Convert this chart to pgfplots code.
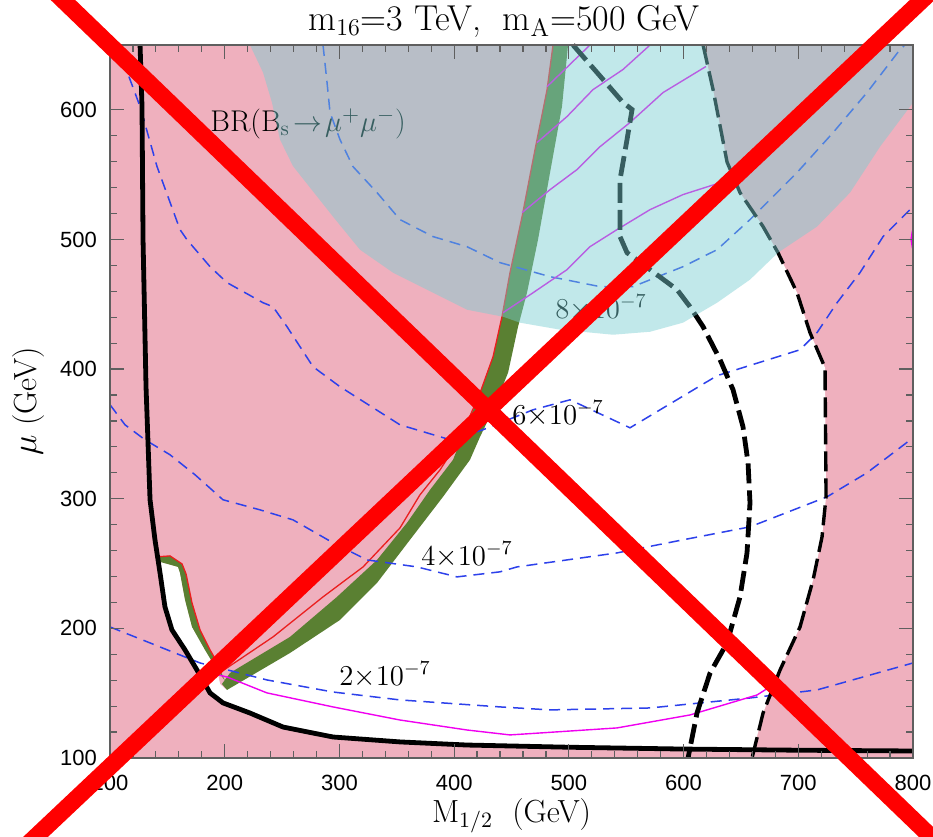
\documentclass[border=0pt]{standalone}
\usepackage{fontspec}
\setsansfont{Liberation Sans}
\usepackage{pgfplots}
\pgfplotsset{compat=1.18}

\definecolor{pinkbg}{RGB}{239,176,190}
\definecolor{bandgreen}{RGB}{90,128,50}
\definecolor{bandred}{RGB}{235,30,30}
\definecolor{brteal}{RGB}{120,207,210}
\definecolor{contourblue}{RGB}{45,65,235}
\definecolor{lspmag}{RGB}{240,0,240}
\definecolor{framegray}{RGB}{95,95,95}

\begin{document}
\begin{tikzpicture}
\begin{axis}[
  set layers, axis on top, clip=false,
  scale only axis, width=401.5pt, height=356.5pt,
  xmin=100, xmax=800, ymin=100, ymax=650,
  xtick={100,200,...,800}, ytick={100,200,...,600},
  minor x tick num=4, minor y tick num=4,
  major tick length=7pt, minor tick length=3.5pt,
  tick style={draw=framegray, line width=0.6pt},
  axis line style={draw=framegray, line width=0.9pt},
  axis background/.style={fill=pinkbg},
  /pgf/number format/assume math mode=true,
  ticklabel style={font=\sffamily\fontsize{11}{11}\selectfont},
  xticklabel style={yshift=-5pt},
  yticklabel style={xshift=-3pt},
  title={m$_{16}$=3 TeV,\ \ m$_{\mathrm{A}}$=500 GeV},
  title style={font=\fontsize{18}{21}\selectfont, at={(axis description cs:0.4907,1.021)}, anchor=base, yshift=-6pt},
  xlabel={M$_{1/2}$\ \ (GeV)},
  xlabel style={font=\fontsize{16}{19}\selectfont, at={(axis description cs:0.5,-0.0898)}, anchor=base},
  ylabel={$\mu$ (GeV)},
  ylabel style={font=\fontsize{16}{19}\selectfont, at={(axis description cs:-0.1021,0.5)}, anchor=center, rotate=0},
]

% allowed region
\addplot[fill=white, draw=none] coordinates {
 (141.5,253) (143.6,242.8) (147.9,216.6) (154.0,198.8) (165.4,183.4) (175.8,167.9)
 (187.2,150.2) (198.5,142.5) (222.0,134.7) (250.8,123.9) (294.4,116.2) (352.8,112.4)
 (411.2,110.0) (500,108.3) (599.5,106.9) (661,106.5) (669.3,134.7) (684.1,167.9)
 (701.5,201.1) (712.9,237.4) (720.7,270.6) (724.2,301.5) (723.3,401.0) (710.2,428.1)
 (698.9,458.9) (682.3,489.8) (669.3,509.9) (649.2,536.1) (637.9,559.7) (625.7,615.6)
 (617.0,650) (498,650) (492.8,602.5) (482.4,551.6) (471.9,499.8) (462.3,458.9)
 (454.5,432.7) (445.8,397.2) (432.7,368.6) (421.4,347.8) (412.6,330.0) (389.1,301.5)
 (360.3,268.3) (331.6,235.1) (299.3,206.5) (255.7,181.0) (201,153) (196,157)
 (193.3,167.9) (182.8,183.4) (171.5,201.1) (165.4,222.0) (161.0,242.8) (159.3,247.4)
 (143.6,251.3)} -- cycle;

% relic density band
\addplot[fill=bandgreen, draw=none] coordinates {
 (197.6,157.1) (204.6,165.6) (256.9,193.4) (297.9,224.3) (332.8,252.8) (358.9,281.4)
 (379.0,306.9) (399.0,330.0) (411.2,357.0) (422.6,381.7) (433.9,409.5) (441.7,440.4)
 (448.7,474.4) (459.2,517.6) (470.5,569.3) (481.0,615.6) (486.2,650) (499.3,650)
 (494.0,602.5) (483.6,551.6) (473.1,499.8) (463.5,458.9) (455.7,432.7) (447.0,397.2)
 (433.9,368.6) (422.6,347.8) (413.8,330.0) (390.3,301.5) (361.5,268.3) (332.8,235.1)
 (300.5,206.5) (256.9,181.0) (202.0,152.5)} -- cycle;
\addplot[fill=bandgreen, draw=none] coordinates {
 (141.8,255.2) (152.3,255.9) (162.8,249.7) (166.3,242.0) (171.5,219.6) (178.5,198.8)
 (187.2,183.4) (194.2,172.6) (196.8,166.4) (200,160) (193.3,167.9) (182.8,183.4)
 (171.5,201.1) (165.4,222.0) (161.0,242.8) (159.3,247.4) (143.6,251.3)} -- cycle;
\addplot[draw=bandred, line width=0.65pt] coordinates {
 (141.8,255.2) (152.3,255.9) (162.8,249.7) (166.3,242.0) (171.5,219.6) (178.5,198.8)
 (187.2,183.4) (194.2,172.6) (196.8,166.4) (242.1,193.4) (285.7,224.3) (320.6,247.4)
 (352.8,277.5) (370.2,303.0) (387.7,322.3) (400.8,340.1) (411.2,358.6) (422.6,381.7)
 (433.9,409.5) (441.7,440.4) (448.7,474.4) (459.2,517.6) (470.5,569.3) (481.0,615.6)
 (486.2,650)};

% BR(Bs -> mu mu) contours
\pgfplotsset{brline/.style={draw=contourblue, line width=0.75pt, dash pattern=on 5.5pt off 3.5pt}}
\addplot[brline] coordinates {
 (100,201.1) (178.5,173.3) (236.9,160.2) (294.4,150.9) (352.8,144.8) (440,139.4)
 (483.6,137.1) (570.8,138.6) (657.9,146.3) (716.3,152.5) (800,173.3)};
\addplot[brline] coordinates {
 (100,372.5) (113.1,357.0) (130.5,345.5) (152.3,333.9) (174.1,318.5) (198.5,299.2)
 (230.8,291.4) (259.5,283.7) (294.4,266.0) (324.0,252.8) (367.6,247.4) (402.5,239.7)
 (440,243.6) (454.8,247.4) (542.0,258.2) (599.5,268.3) (657.9,278.3) (725.1,301.5)
 (759.9,320.0) (800,347.0)};
\addplot[brline] coordinates {
 (102.6,650) (108.7,644.2) (126.2,602.5) (141.0,556.2) (161.0,507.6) (167.1,499.8)
 (187.2,479.0) (202.0,466.7) (233.4,451.2) (242.1,448.1) (254.3,432.7) (277.0,401.8)
 (300.5,386.4) (352.8,357.0) (396.4,345.5) (425.2,353.2) (468.8,368.6) (501.0,376.3)
 (553.3,354.7) (629.2,394.9) (701.5,414.9) (716.3,428.1) (733.8,451.2) (753.8,474.4)
 (773.9,502.2) (800,525.3)};
\addplot[brline] coordinates {
 (285.7,650) (289.2,621.0) (291.8,597.9) (300.5,577.0) (311.8,556.2) (332.8,536.1)
 (352.8,515.3) (381.6,502.2) (411.2,494.4) (440,482.1) (483.6,471.3) (527.2,463.6)
 (555.9,463.6) (599.5,479.0) (629.2,492.1) (657.9,515.3) (698.9,551.6) (730.3,582.4)
 (759.9,613.3) (788.7,646.5) (793.0,650)};

% lightest-Higgs mass contours
\pgfplotsset{mline/.style={draw=lspmag, line width=0.7pt}}
\addplot[mline] coordinates {
 (175.8,167.9) (202.0,162.5) (236.9,150.2) (294.4,139.4) (352.8,129.3) (411.2,121.6)
 (448.7,117.8) (474.9,119.3) (542.0,123.2) (605.6,133.2) (664.0,148.6) (678.0,156.4)};
\addplot[mline] coordinates {(481.0,617.9) (518.4,650)};
\addplot[mline] coordinates {(472.2,574.7) (498.4,594.8) (521.1,615.6) (547.2,631.1) (570.8,650)};
\addplot[mline] coordinates {(459.2,520.7) (483.6,538.4) (507.1,553.9) (527.2,571.6) (553.3,590.2) (582.1,613.3) (619.5,633.4)};
\addplot[mline] coordinates {(442.6,443.5) (468.8,458.9) (498.4,476.7) (518.4,494.4) (542.0,507.6) (570.8,523.0) (599.5,534.6) (640.5,546.2)};
\addplot[mline] coordinates {(799.6,507) (798.3,500) (799.6,493)};

% LEP chargino bound and other limits
\addplot[draw=black, line width=2.4pt] coordinates {
 (126.2,650) (127.9,602.5) (128.8,499.8) (131.4,386.4) (134.9,299.2) (139.2,268.3)
 (143.6,242.8) (147.9,216.6) (154.0,198.8) (165.4,183.4) (175.8,167.9) (187.2,150.2)
 (198.5,142.5) (222.0,134.7) (250.8,123.9) (294.4,116.2) (352.8,112.4) (411.2,110.0)
 (500,108.3) (599.5,106.9) (700,106) (800,105.4)};
\addplot[draw=black, line width=2.4pt, dash pattern=on 10pt off 3.5pt] coordinates {
 (503.6,650) (524.5,628.8) (547.2,605.6) (555.1,600.2) (550.7,577.0) (544.6,546.2)
 (544.6,502.2) (550.7,489.8) (570.8,476.7) (594.3,461.3) (605.6,448.1) (617.0,432.7)
 (631.8,407.2) (643.1,384.1) (651.8,355.5) (656.2,327.7) (657.9,296.8) (655.3,258.2)
 (649.2,224.3) (637.9,188.8) (623.1,165.6) (611.7,134.7) (603.9,100)};
\addplot[draw=black, line width=1.7pt, dash pattern=on 10pt off 3.5pt] coordinates {
 (617.0,650) (625.7,615.6) (637.9,559.7) (649.2,536.1) (669.3,509.9) (682.3,489.8)
 (698.9,458.9) (710.2,428.1) (723.3,401.0) (724.2,301.5) (720.7,270.6) (712.9,237.4)
 (701.5,201.1) (684.1,167.9) (669.3,134.7) (659.7,100)};

% labels
\node[font=\fontsize{14}{16}\selectfont] at (axis cs:339.7,164.1) {$2{\times}10^{-7}$};
\node[font=\fontsize{14}{16}\selectfont] at (axis cs:411.2,256.7) {$4{\times}10^{-7}$};
\node[font=\fontsize{14}{16}\selectfont] at (axis cs:490.6,365.5) {$6{\times}10^{-7}$};
\node[font=\fontsize{14}{16}\selectfont] at (axis cs:528.0,447.4) {$8{\times}10^{-7}$};
\node[font=\fontsize{15}{18}\selectfont, anchor=base west, inner sep=0pt] at (axis cs:187.2,583.2)
  {BR(B$_{\mathrm{s}}\!\rightarrow\!\mu^{+}\mu^{-}$)};

% region excluded by BR(Bs -> mu mu)
\addplot[fill=brteal, fill opacity=0.46, draw=none] coordinates {
 (222.0,650) (233.4,628.8) (241.2,605.6) (248.2,577.0) (259.5,556.6) (294.4,517.6)
 (317.9,492.1) (346.7,474.4) (381.6,458.9) (411.2,445.8) (442.6,440.4) (457.4,435.8)
 (492.3,430.4) (538.5,426.5) (570.8,428.8) (599.5,435.8) (629.2,451.2) (657.9,469.0)
 (682.3,489.8) (716.3,509.9) (745.1,536.1) (771.3,571.6) (800,605.6) (800,650)} -- cycle;

% cross
\addplot[draw=red, line width=8.5pt, on layer=axis foreground] coordinates {(40.46,700.5) (834.0,23.6)};
\addplot[draw=red, line width=8.5pt, on layer=axis foreground] coordinates {(826.9,700.5) (16.5,23.6)};
\end{axis}
\pgfresetboundingbox
\path[use as bounding box] ([shift={(-55pt,-39.5pt)}]current axis.south west)
  rectangle ([shift={(10pt,22.5pt)}]current axis.north east);
\end{tikzpicture}
\end{document}
